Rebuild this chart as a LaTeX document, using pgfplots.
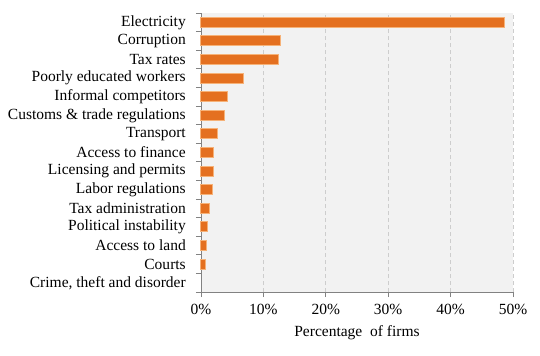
\documentclass[border=0pt]{standalone}
\usepackage{pgfplots}
\pgfplotsset{compat=1.18}
\usepackage{fontspec}
\setmainfont{Liberation Serif}
\definecolor{barfill}{RGB}{228,112,32}
\definecolor{barline}{RGB}{246,178,120}
\definecolor{bg}{RGB}{242,242,242}
\definecolor{axgray}{RGB}{130,130,130}
\definecolor{gridgray}{RGB}{205,205,205}
\begin{document}
\begin{tikzpicture}
\begin{axis}[
  scale only axis,
  width=312pt, height=279pt,
  xbar, bar width=10pt,
  xmin=0, xmax=50,
  ymin=-0.5, ymax=14.5,
  axis background/.style={fill=bg},
  axis x line*=bottom, axis y line*=left,
  axis line style={axgray, line width=0.9pt, -},
  xtick={0,10,20,30,40,50},
  xticklabels={0\%,10\%,20\%,30\%,40\%,50\%},
  xmajorgrids,
  major grid style={gridgray, dash pattern=on 4pt off 3pt, line width=0.8pt},
  ytick={-0.5,0.5,...,14.5},
  yticklabels={{Crime, theft and disorder},Courts,Access to land,Political instability,Tax administration,Labor regulations,Licensing and permits,Access to finance,Transport,Customs \& trade regulations,Informal competitors,Poorly educated workers,Tax rates,Corruption,Electricity,{}},
  every tick/.style={draw=axgray, line width=0.9pt},
  major tick length=5pt,
  xtick align=outside, ytick align=outside,
  yticklabel style={font=\fontsize{15.5}{17}\selectfont, inner sep=0pt, xshift=-10pt, yshift=9.3pt},
  xticklabel style={font=\fontsize{15.5}{17}\selectfont, yshift=-4pt},
  /pgf/number format/assume math mode=true,
  xlabel={Percentage\ \ of firms},
  xlabel style={font=\fontsize{15.5}{17}\selectfont, yshift=-4pt},
  clip=false,
]
\addplot[fill=barfill, draw=barline, line width=1pt] coordinates {
(0.8,1) (0.9,2) (1.1,3) (1.3,4) (1.8,5) (2.0,6) (2.0,7) (2.7,8) (3.8,9) (4.2,10) (6.8,11) (12.5,12) (12.7,13) (48.7,14)
};
\path (rel axis cs:-0.644,-0.229) rectangle (rel axis cs:1.0865,1.0466);
\end{axis}
\end{tikzpicture}
\end{document}
